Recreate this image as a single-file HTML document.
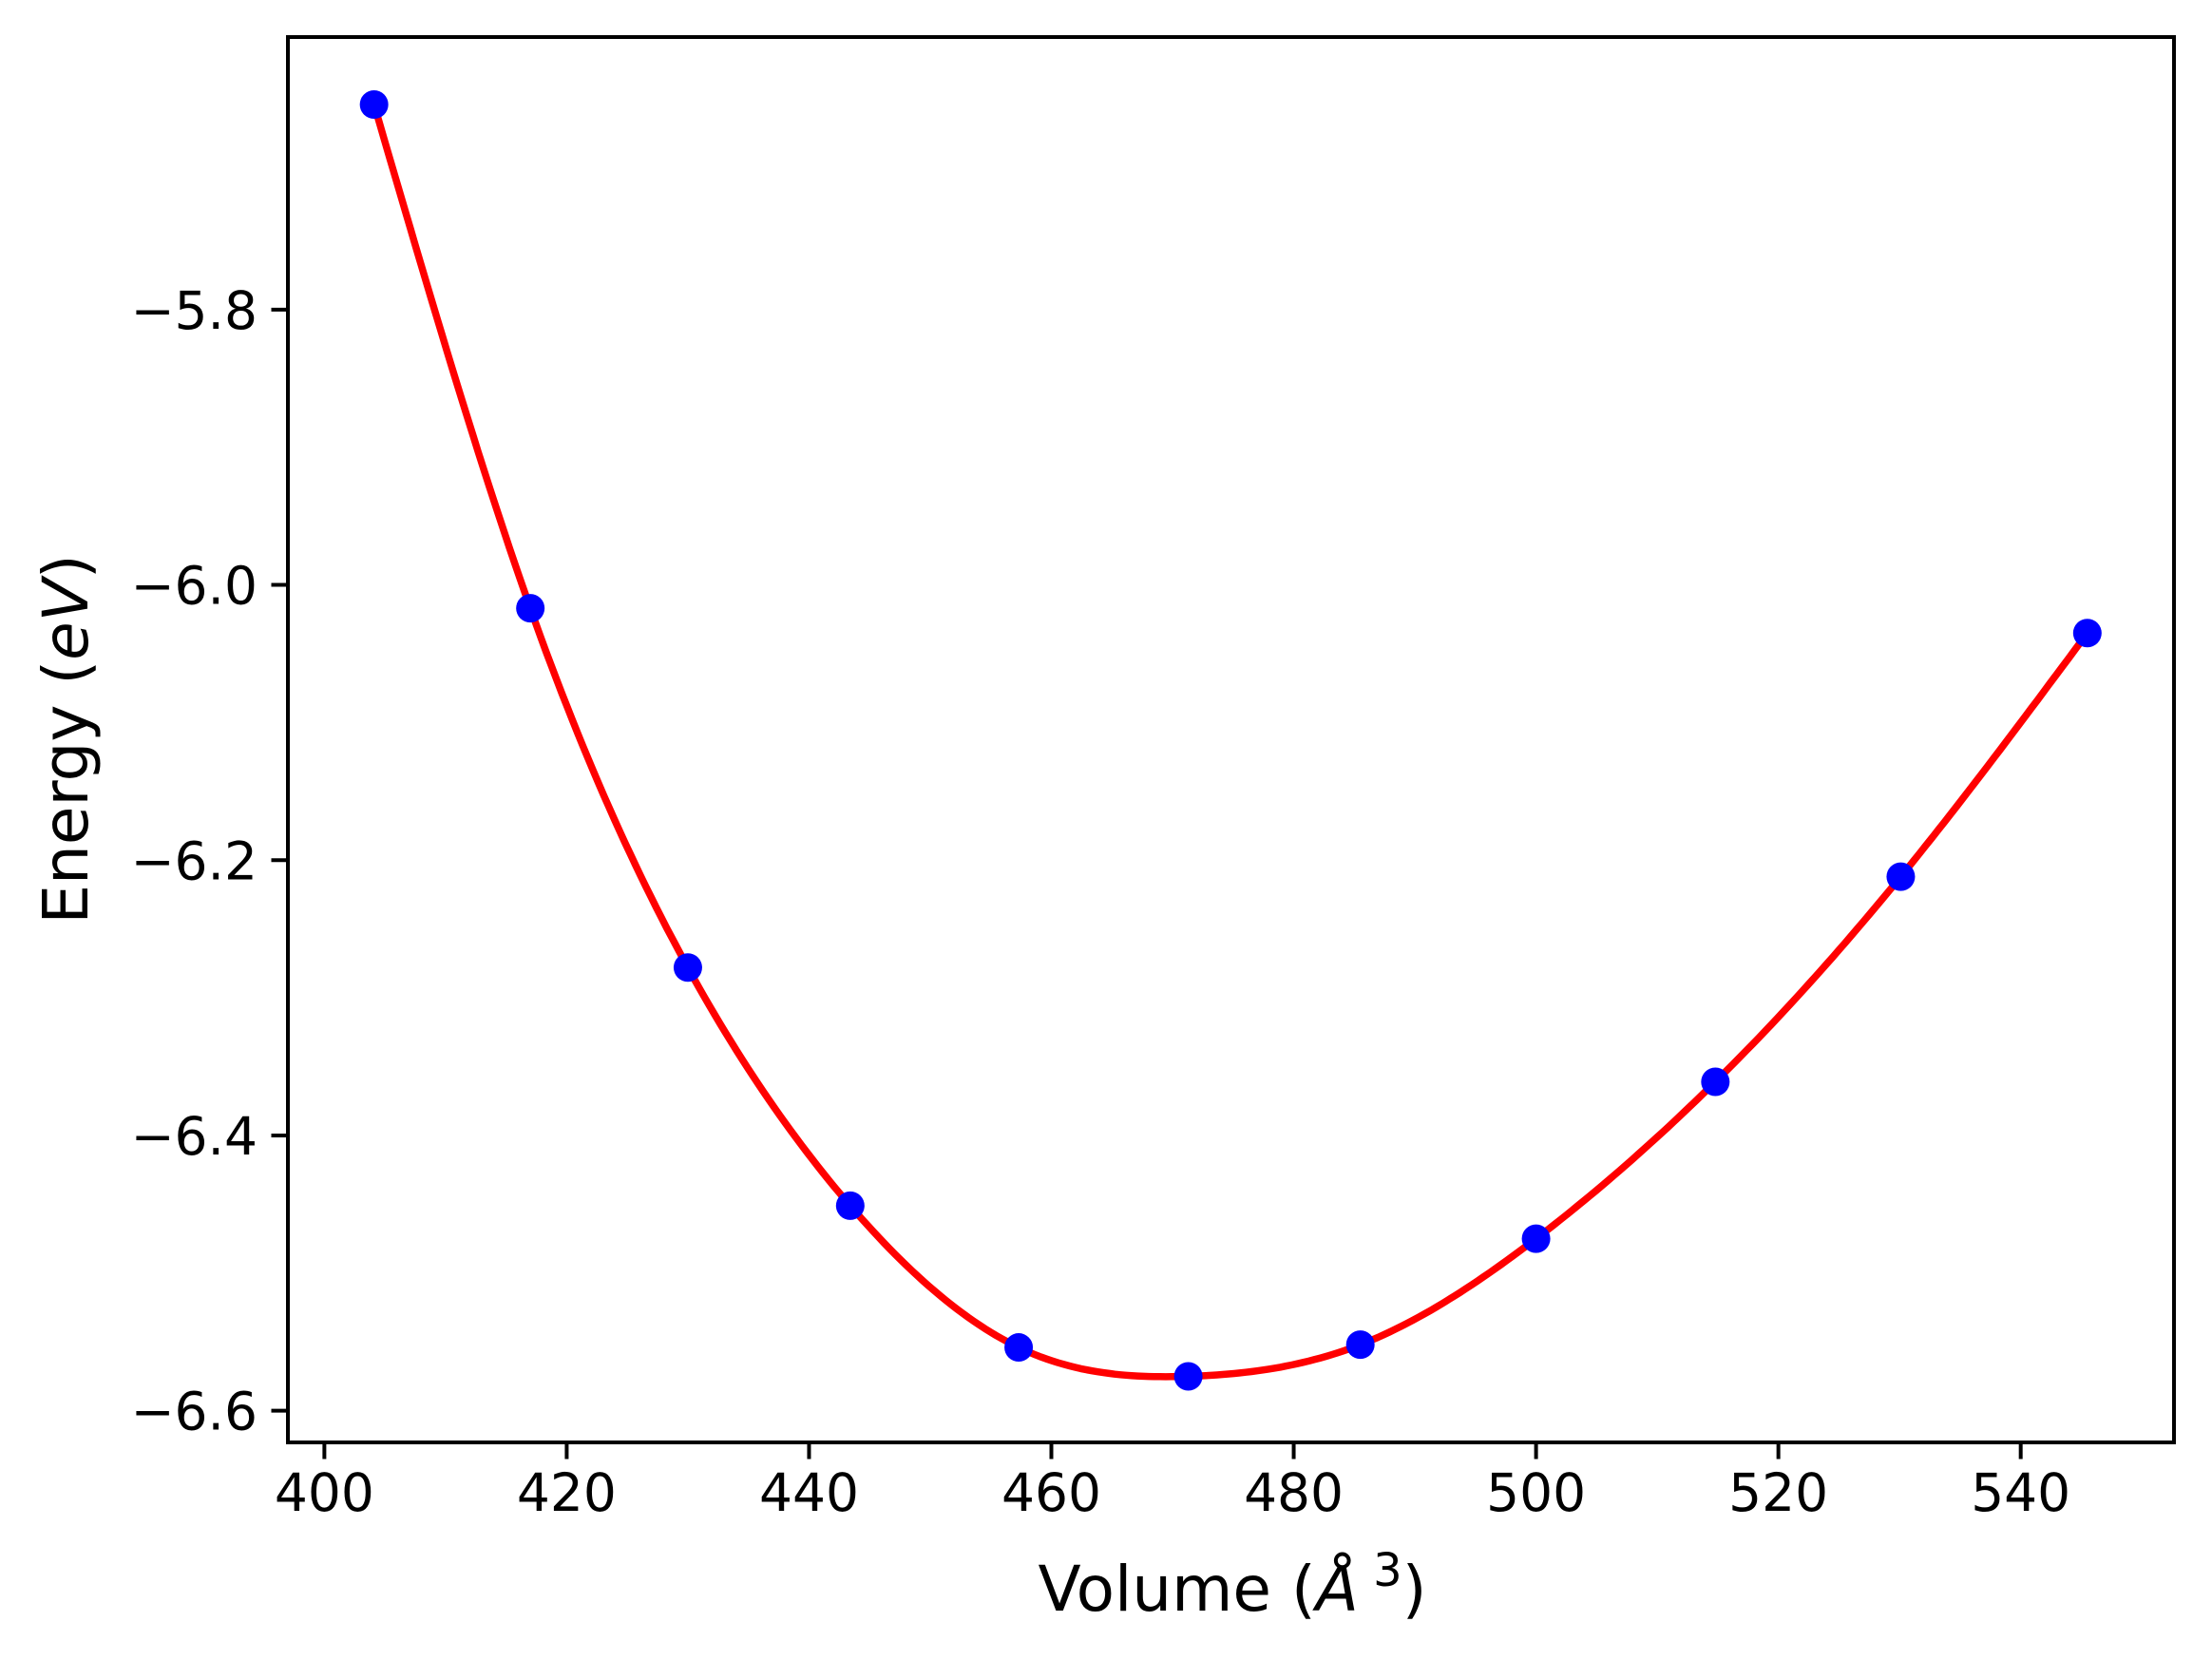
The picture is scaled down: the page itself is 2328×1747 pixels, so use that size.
<!DOCTYPE html>
<html><head><meta charset="utf-8"><style>html,body{margin:0;padding:0;background:#fff}svg{display:block}text{font-family:"DejaVu Sans","Liberation Sans",sans-serif;fill:#000}</style></head>
<body>
<svg id="chart" width="2328" height="1747" viewBox="0 0 2328 1747" xmlns="http://www.w3.org/2000/svg">
<rect x="0" y="0" width="2328" height="1747" fill="#fff"/>
<g id="plot"></g>
<text x="1297" y="1695" font-size="66" text-anchor="middle">Volume (<tspan font-style="italic">Å</tspan><tspan dy="-26" font-size="48"> 3</tspan><tspan dy="26">)</tspan></text>
<text x="0" y="0" font-size="66" text-anchor="middle" transform="translate(92,778) rotate(-90)">Energy (<tspan font-style="italic">eV</tspan>)</text>
</svg>
<script>
const volumes = [404.1, 417.0, 430.0, 443.4, 457.3, 471.3, 485.5, 500.0, 514.8, 530.1, 545.5];
const energies = [-5.651, -6.017, -6.278, -6.451, -6.554, -6.575, -6.552, -6.475, -6.361, -6.212, -6.035];
const xTicks = [400, 420, 440, 460, 480, 500, 520, 540];
const yTicks = [-6.6, -6.4, -6.2, -6.0, -5.8];
const xMin = 396.99, xMax = 552.65, yMin = -6.623, yMax = -5.602;
const L = 303, R = 2288, T = 39, B = 1518;
const sx = v => L + (v - xMin) / (xMax - xMin) * (R - L);
const sy = v => B - (v - yMin) / (yMax - yMin) * (B - T);
const NS = 'http://www.w3.org/2000/svg';
const g = document.getElementById('plot');
function mk(tag, attrs) { const e = document.createElementNS(NS, tag); for (const k in attrs) e.setAttribute(k, attrs[k]); g.appendChild(e); return e; }

// natural cubic spline through data
const n = volumes.length, h = [], al = [], l = [1], mu = [0], z = [0], c = new Array(n).fill(0), b = [], d = [];
for (let i = 0; i < n - 1; i++) h.push(volumes[i + 1] - volumes[i]);
for (let i = 1; i < n - 1; i++) al[i] = 3 / h[i] * (energies[i + 1] - energies[i]) - 3 / h[i - 1] * (energies[i] - energies[i - 1]);
for (let i = 1; i < n - 1; i++) { l[i] = 2 * (volumes[i + 1] - volumes[i - 1]) - h[i - 1] * mu[i - 1]; mu[i] = h[i] / l[i]; z[i] = (al[i] - h[i - 1] * z[i - 1]) / l[i]; }
for (let j = n - 2; j >= 0; j--) { c[j] = (j < n - 1 ? z[j] - mu[j] * c[j + 1] : 0); b[j] = (energies[j + 1] - energies[j]) / h[j] - h[j] * (c[j + 1] + 2 * c[j]) / 3; d[j] = (c[j + 1] - c[j]) / (3 * h[j]); }
let pts = [];
for (let j = 0; j < n - 1; j++) for (let k = 0; k <= 30; k++) { const t = h[j] * k / 30; const v = energies[j] + b[j] * t + c[j] * t * t + d[j] * t * t * t; pts.push(sx(volumes[j] + t).toFixed(1) + ',' + sy(v).toFixed(1)); }
const fit = mk('polyline', { points: pts.join(' '), fill: 'none', stroke: '#ff0000', 'stroke-width': 7.5, 'stroke-linejoin': 'round' });


volumes.forEach((v, i) => {
  const p = mk('circle', { cx: sx(v), cy: sy(energies[i]), r: 15, fill: '#0000ff' });
  
  
});
const frame = mk('rect', { x: L, y: T, width: R - L, height: B - T, fill: 'none', stroke: '#000', 'stroke-width': 4 });


xTicks.forEach(t => {
  const x = sx(t);
  const tk = mk('line', { x1: x, x2: x, y1: B, y2: B + 17.5, stroke: '#000', 'stroke-width': 4 });
  
  
  const tx = mk('text', { x: x, y: B + 72, 'font-size': 55, 'text-anchor': 'middle' });
  tx.textContent = t;
  
  
});
yTicks.forEach(t => {
  const y = sy(t);
  const tk = mk('line', { x1: L - 17.5, x2: L, y1: y, y2: y, stroke: '#000', 'stroke-width': 4 });
  
  
  const tx = mk('text', { x: L - 32, y: y + 20, 'font-size': 55, 'text-anchor': 'end' });
  tx.textContent = '\u2212' + Math.abs(t).toFixed(1);
  
  
});
</script>
</body></html>
